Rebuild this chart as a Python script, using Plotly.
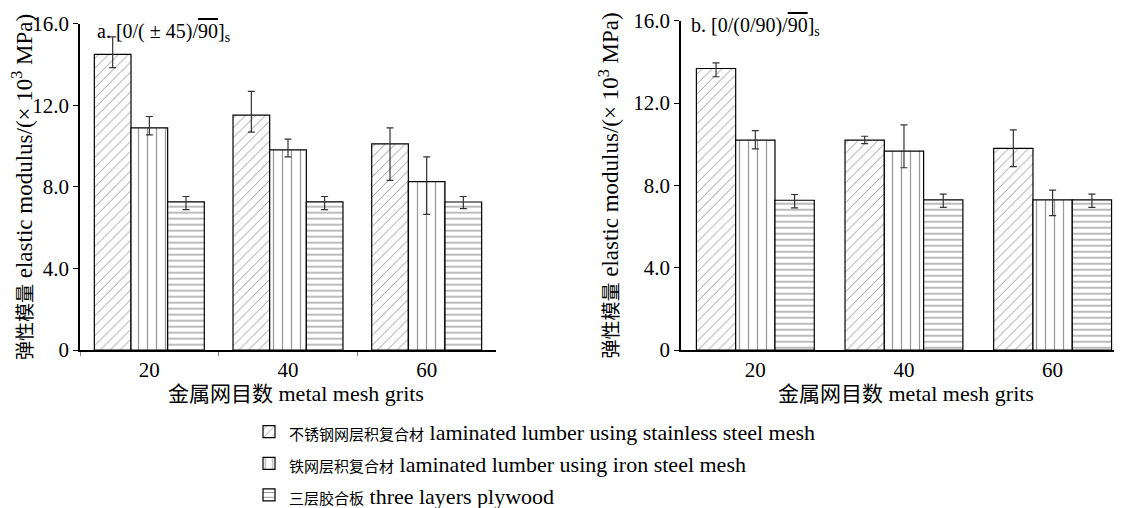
import plotly.graph_objects as go

categories = ["20", "40", "60"]
series_cn = ["不锈钢网层积复合材", "铁网层积复合材", "三层胶合板"]
series_en = [
    "laminated lumber using stainless steel mesh",
    "laminated lumber using iron steel mesh",
    "three layers plywood",
]
patterns = ["/", "|", "-"]

# panel a
a_stainless = [14.5, 11.52, 10.11]
a_stainless_plus = [0.85, 1.16, 0.78]
a_stainless_minus = [0.65, 0.83, 1.79]
a_iron = [10.89, 9.82, 8.26]
a_iron_plus = [0.56, 0.52, 1.21]
a_iron_minus = [0.34, 0.35, 1.61]
a_ply = [7.27, 7.27, 7.26]
a_ply_plus = [0.26, 0.26, 0.27]
a_ply_minus = [0.38, 0.38, 0.32]

# panel b
b_stainless = [13.68, 10.2, 9.8]
b_stainless_plus = [0.27, 0.19, 0.9]
b_stainless_minus = [0.4, 0.17, 0.89]
b_iron = [10.2, 9.67, 7.3]
b_iron_plus = [0.46, 1.27, 0.47]
b_iron_minus = [0.42, 0.81, 0.77]
b_ply = [7.28, 7.3, 7.3]
b_ply_plus = [0.28, 0.28, 0.28]
b_ply_minus = [0.37, 0.37, 0.37]

y_ticks = [0, 4, 8, 12, 16]
y_ticktext = ["0", "4.0", "8.0", "12.0", "16.0"]

FONT = "Liberation Serif, 'Noto Sans CJK SC', serif"
W, H = 1122, 508
OFF = 8  # page body margin


def px(x):
    return (x - OFF) / W


def py(y):
    return (H + OFF - y) / H


fig = go.Figure()

panels = [
    ("x", "y", [a_stainless, a_iron, a_ply],
     [a_stainless_plus, a_iron_plus, a_ply_plus],
     [a_stainless_minus, a_iron_minus, a_ply_minus], True),
    ("x2", "y2", [b_stainless, b_iron, b_ply],
     [b_stainless_plus, b_iron_plus, b_ply_plus],
     [b_stainless_minus, b_iron_minus, b_ply_minus], False),
]
pat_sizes = [7, 9, 6]
pat_sol = [0.14, 0.14, 0.22]
for xa, ya, vals, plus, minus, show in panels:
    for i in range(3):
        name = f'<span style="font-size:15px">{series_cn[i]}</span> {series_en[i]}'
        fig.add_trace(go.Bar(
            x=categories, y=vals[i], name=name,
            xaxis=xa, yaxis=ya, showlegend=show,
            marker=dict(color="white",
                        line=dict(color="black", width=1.2),
                        pattern=dict(shape=patterns[i], fgcolor="#333333",
                                     bgcolor="white", size=pat_sizes[i],
                                     solidity=pat_sol[i])),
            error_y=dict(type="data", symmetric=False, array=plus[i],
                         arrayminus=minus[i], color="#333333",
                         thickness=1.2, width=3.5),
        ))

xtitle = '<span style="font-size:21px">金属网目数</span> metal mesh grits'
ytitle = ('<span style="font-size:19px">弹性模量</span> elastic modulus/'
          '(× 10<sup>3</sup> MPa)')


def xaxis_cfg(ticks):
    return dict(type="category", showline=True, linecolor="black", linewidth=1.5,
                ticks=ticks, tickson="boundaries", ticklen=4, tickcolor="#888888",
                showgrid=False, zeroline=False, automargin=False,
                tickfont=dict(family=FONT, size=21, color="black"))


ycommon = dict(range=[0, 16], tickvals=y_ticks, ticktext=y_ticktext,
               showline=True, linecolor="black", linewidth=1.5,
               ticks="outside", ticklen=5, tickcolor="black",
               showgrid=False, zeroline=False, automargin=False,
               ticklabeloverflow="allow",
               tickfont=dict(family=FONT, size=21, color="black"),
               title=dict(text=ytitle, font=dict(family=FONT, size=23, color="black"),
                          standoff=8))

fig.update_layout(
    width=W, height=H,
    margin=dict(l=0, r=0, t=0, b=0),
    paper_bgcolor="white", plot_bgcolor="white",
    barmode="group", bargap=0.207, bargroupgap=0,
    xaxis=dict(domain=[px(80), px(496)], range=[-0.5, 2.5], anchor="y", **xaxis_cfg("outside")),
    yaxis=dict(domain=[py(357), py(24)], anchor="x", **ycommon),
    xaxis2=dict(domain=[px(681), px(1121)], range=[-0.5, 2.46], anchor="y2", **xaxis_cfg("")),
    yaxis2=dict(domain=[py(357), py(21)], anchor="x2", **ycommon),
    legend=dict(x=px(249), y=py(419), xanchor="left", yanchor="top",
                font=dict(family=FONT, size=22, color="black"),
                bgcolor="rgba(0,0,0,0)", traceorder="normal"),
    annotations=[
        dict(text='a. [0/( ± 45)/<span style="text-decoration:overline">90</span>]<sub>s</sub>',
             xref="paper", yref="paper", x=px(95), y=py(33),
             xanchor="left", yanchor="middle", showarrow=False,
             font=dict(family=FONT, size=20, color="black")),
        dict(text='b. [0/(0/90)/<span style="text-decoration:overline">90</span>]<sub>s</sub>',
             xref="paper", yref="paper", x=px(689), y=py(27),
             xanchor="left", yanchor="middle", showarrow=False,
             font=dict(family=FONT, size=20, color="black")),
        dict(text=xtitle, xref="paper", yref="paper", x=px(296), y=py(401),
             xanchor="center", yanchor="middle", showarrow=False,
             font=dict(family=FONT, size=22, color="black")),
        dict(text=xtitle, xref="paper", yref="paper", x=px(906), y=py(401),
             xanchor="center", yanchor="middle", showarrow=False,
             font=dict(family=FONT, size=22, color="black")),
    ],
)

fig.write_html("out.html")
